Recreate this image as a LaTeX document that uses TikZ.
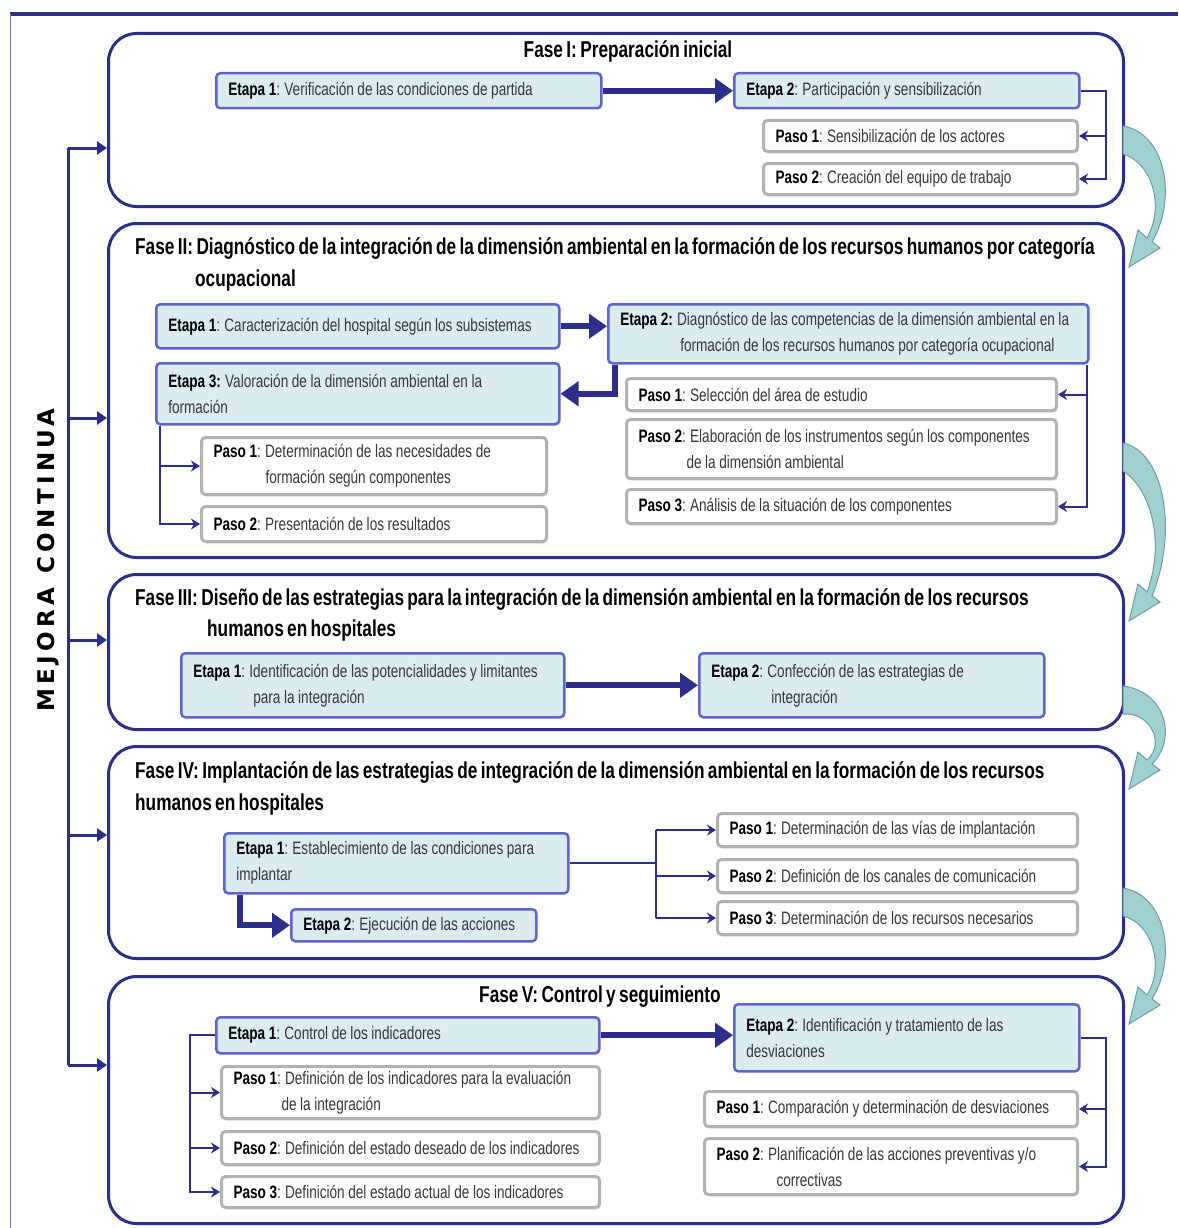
\documentclass[tikz,border=0pt]{standalone}
\usepackage{fontspec}
\setmainfont{Liberation Sans}[FakeStretch=0.755]
\newfontfamily\titfont{Liberation Sans}[FakeStretch=0.75,WordSpace=0.7]
\newfontfamily\mcfont{DejaVu Sans}[LetterSpace=19]
\usetikzlibrary{arrows.meta,shadows}

\definecolor{azulosc}{RGB}{45,45,140}
\definecolor{bordeetapa}{RGB}{95,100,205}
\definecolor{fondoetapa}{RGB}{218,236,240}
\definecolor{bordepaso}{RGB}{178,178,178}
\definecolor{textocaja}{RGB}{55,55,55}
\definecolor{curvafondo}{RGB}{160,208,208}
\definecolor{curvaborde}{RGB}{105,160,165}

\newcommand{\rotulo}[1]{\textcolor{black}{\bfseries #1}}

\begin{document}
\begin{tikzpicture}[x=1pt,y=-1pt,
    fase/.style={draw=azulosc,line width=3pt,rounded corners=28pt,anchor=north west,inner sep=0pt},
    titulo/.style={font=\titfont\bfseries\fontsize{23}{32}\selectfont,inner sep=0pt},
    etapa/.style={draw=bordeetapa,fill=fondoetapa,line width=2.5pt,rounded corners=4pt,anchor=north west,
        align=left,inner xsep=12pt,inner ysep=0pt,text=textocaja,font=\fontsize{18}{26}\selectfont,
        execute at begin node={\spaceskip=3.6pt plus 1pt\xspaceskip=4.2pt plus 1pt\hyphenpenalty=10000\relax}},
    paso/.style={etapa,draw=bordepaso,fill=white,line width=3pt,
        drop shadow={shadow xshift=1pt,shadow yshift=-2pt,opacity=0.25}},
    flecha/.style={azulosc,line width=6pt,-{Triangle[length=18pt,width=24pt]}},
    rama/.style={azulosc,line width=2pt,-{Stealth[length=9pt,width=11pt]}},
    linea/.style={azulosc,line width=2pt},
    mejora/.style={azulosc,line width=3pt,-{Triangle[length=10pt,width=13pt]}}]

    \fill[white] (0,0) rectangle (1178,1228);
    \useasboundingbox (0,0) rectangle (1178,1228);
    \draw[azulosc,line width=4pt] (10,14) -- (1178,14);
    \draw[azulosc!60,line width=1pt] (10,14) -- (10,1228);

    \node[fase,minimum width=1015pt,minimum height=173pt] (f1) at (107,32) {};
    \node[fase,minimum width=1015pt,minimum height=334pt] (f2) at (107,222) {};
    \node[fase,minimum width=1015pt,minimum height=155pt] (f3) at (107,573) {};
    \node[fase,minimum width=1015pt,minimum height=212pt] (f4) at (107,745) {};
    \node[fase,minimum width=1015pt,minimum height=247pt] (f5) at (107,975) {};

    \foreach \ya/\yb in {126/268,443/622,686/790,888/1025}{
        \filldraw[fill=curvafondo,draw=curvaborde,line width=1pt]
            (1123,\ya) .. controls (1165,{\ya+0.05*(\yb-\ya)}) and (1178,{\ya+0.5*(\yb-\ya)}) .. (1152,\yb-26)
            -- (1160,\yb-20) -- (1129,\yb-1) -- (1138,\yb-38) -- (1147,\yb-30)
            .. controls (1166,{\ya+0.55*(\yb-\ya)}) and (1150,{\ya+0.25*(\yb-\ya)}) .. (1123,\ya+28) -- cycle;
    }

    \node[rotate=90,inner sep=0pt,font=\mcfont\bfseries\fontsize{23}{23}\selectfont] (mc) at (48,560) {MEJORA\hspace{14pt}CONTINUA};
    \coordinate (m1) at (68,148);
    \coordinate (m2) at (68,418);
    \coordinate (m3) at (68,640);
    \coordinate (m4) at (68,835);
    \coordinate (m5) at (68,1065);
    \draw[linea,line width=3pt] (m1) -- (m5);
    \draw[mejora] (m1) -- (m1 -| f1.west);
    \draw[mejora] (m2) -- (m2 -| f2.west);
    \draw[mejora] (m3) -- (m3 -| f3.west);
    \draw[mejora] (m4) -- (m4 -| f4.west);
    \draw[mejora] (m5) -- (m5 -| f5.west);

    \node[titulo,anchor=base] (t1) at (628,58) {Fase I: Preparación inicial};
    \node[etapa,text width=361pt,minimum height=35pt] (e11) at (215,72)
        {\rotulo{Etapa 1}: Verificación de las condiciones de partida};
    \node[etapa,text width=321pt,minimum height=35pt] (e12) at (733,72)
        {\rotulo{Etapa 2}: Participación y sensibilización};
    \node[paso,text width=290pt,minimum height=31pt] (p11) at (762,119)
        {\rotulo{Paso 1}: Sensibilización de los actores};
    \node[paso,text width=290pt,minimum height=31pt] (p12) at (762,162)
        {\rotulo{Paso 2}: Creación del equipo de trabajo};
    \draw[flecha] (e11) -- (e12);
    \draw[rama] (e12.east) -- ++(25,0) coordinate (c1) |- (p12.east);
    \draw[rama] (c1 |- p11.east) -- (p11.east);

    \node[titulo,anchor=base west] (t2a) at (135,254)
        {Fase II: Diagnóstico de la integración de la dimensión ambiental en la formación de los recursos humanos por categoría};
    \node[titulo,anchor=base west] (t2b) at (195,286) {ocupacional};
    \node[etapa,text width=379pt,minimum height=44pt] (e21) at (155,303)
        {\rotulo{Etapa 1}: Caracterización del hospital según los subsistemas};
    \node[etapa,text width=456pt,minimum height=59pt] (e22) at (607,303)
        {\rotulo{Etapa 2:} Diagnóstico de las competencias de la dimensión ambiental en la\\
         \hspace*{60pt}formación de los recursos humanos por categoría ocupacional};
    \node[etapa,text width=379pt,minimum height=61pt] (e23) at (155,362)
        {\rotulo{Etapa 3:} Valoración de la dimensión ambiental en la\\formación};
    \node[paso,text width=406pt,minimum height=32pt] (p21) at (625,377)
        {\rotulo{Paso 1}: Selección del área de estudio};
    \node[paso,text width=406pt,minimum height=59pt] (p22) at (625,418)
        {\rotulo{Paso 2}: Elaboración de los instrumentos según los componentes\\
         \hspace*{48pt}de la dimensión ambiental};
    \node[paso,text width=406pt,minimum height=34pt] (p23) at (625,488)
        {\rotulo{Paso 3}: Análisis de la situación de los componentes};
    \node[paso,text width=321pt,minimum height=57pt] (p24) at (200,436)
        {\rotulo{Paso 1}: Determinación de las necesidades de\\
         \hspace*{52pt}formación según componentes};
    \node[paso,text width=321pt,minimum height=35pt] (p25) at (200,505)
        {\rotulo{Paso 2}: Presentación de los resultados};
    \draw[flecha] (e21.east) -- (e21.east -| e22.west);
    \draw[flecha] ([xshift=8pt]e22.south west) |- (e23.east);
    \coordinate (c2) at ([xshift=-3pt]e22.south east);
    \draw[rama] (c2) |- (p23.east);
    \draw[rama] (c2 |- p21.east) -- (p21.east);
    \coordinate (c3) at ([xshift=5pt]e23.south west);
    \draw[rama] (c3) |- (p25.west);
    \draw[rama] (c3 |- p24.west) -- (p24.west);

    \node[titulo,anchor=base west] (t3a) at (135,605)
        {Fase III: Diseño de las estrategias para la integración de la dimensión ambiental en la formación de los recursos};
    \node[titulo,anchor=base west] (t3b) at (207,636) {humanos en hospitales};
    \node[etapa,text width=359pt,minimum height=64pt] (e31) at (180,652)
        {\rotulo{Etapa 1}: Identificación de las potencialidades y limitantes\\
         \hspace*{60pt}para la integración};
    \node[etapa,text width=321pt,minimum height=64pt] (e32) at (698,652)
        {\rotulo{Etapa 2}: Confección de las estrategias de\\
         \hspace*{60pt}integración};
    \draw[flecha] (e31) -- (e32);

    \node[titulo,anchor=base west] (t4a) at (135,778)
        {Fase IV: Implantación de las estrategias de integración de la dimensión ambiental en la formación de los recursos};
    \node[titulo,anchor=base west] (t4b) at (135,810) {humanos en hospitales};
    \node[etapa,text width=320pt,minimum height=60pt] (e41) at (223,832)
        {\rotulo{Etapa 1}: Establecimiento de las condiciones para\\implantar};
    \node[etapa,text width=221pt,minimum height=32pt] (e42) at (290,908)
        {\rotulo{Etapa 2}: Ejecución de las acciones};
    \node[paso,text width=336pt,minimum height=33pt] (p41) at (716,812)
        {\rotulo{Paso 1}: Determinación de las vías de implantación};
    \node[paso,text width=336pt,minimum height=33pt] (p42) at (716,858)
        {\rotulo{Paso 2}: Definición de los canales de comunicación};
    \node[paso,text width=336pt,minimum height=33pt] (p43) at (716,900)
        {\rotulo{Paso 3}: Determinación de los recursos necesarios};
    \draw[flecha] ([xshift=17pt]e41.south west) |- (e42.west);
    \draw[linea] (e41.east) -- ++(86,0) coordinate (c4);
    \draw[linea] (c4 |- p41.west) -- (c4 |- p43.west);
    \foreach \p in {p41,p42,p43}
        \draw[rama] (c4 |- \p.west) -- (\p.west);

    \node[titulo,anchor=base] (t5) at (600,1002) {Fase V: Control y seguimiento};
    \node[etapa,text width=359pt,minimum height=36pt] (e51) at (215,1016)
        {\rotulo{Etapa 1}: Control de los indicadores};
    \node[etapa,text width=321pt,minimum height=67pt] (e52) at (733,1003)
        {\rotulo{Etapa 2}: Identificación y tratamiento de las\\desviaciones};
    \node[paso,text width=354pt,minimum height=52pt] (p51) at (220,1065)
        {\rotulo{Paso 1}: Definición de los indicadores para la evaluación\\
         \hspace*{48pt}de la integración};
    \node[paso,text width=354pt,minimum height=33pt] (p52) at (220,1130)
        {\rotulo{Paso 2}: Definición del estado deseado de los indicadores};
    \node[paso,text width=354pt,minimum height=31pt] (p53) at (220,1175)
        {\rotulo{Paso 3}: Definición del estado actual de los indicadores};
    \node[paso,text width=349pt,minimum height=35pt] (p54) at (703,1090)
        {\rotulo{Paso 1}: Comparación y determinación de desviaciones};
    \node[paso,text width=349pt,minimum height=56pt] (p55) at (703,1137)
        {\rotulo{Paso 2}: Planificación de las acciones preventivas y/o\\
         \hspace*{60pt}correctivas};
    \draw[flecha] (e51.east) -- (e51.east -| e52.west);
    \draw[rama] (e51.west) -- ++(-25,0) coordinate (c5) |- (p53.west);
    \draw[rama] (c5 |- p51.west) -- (p51.west);
    \draw[rama] (c5 |- p52.west) -- (p52.west);
    \draw[rama] (e52.east) -- ++(25,0) coordinate (c6) |- (p55.east);
    \draw[rama] (c6 |- p54.east) -- (p54.east);
\end{tikzpicture}
\end{document}
